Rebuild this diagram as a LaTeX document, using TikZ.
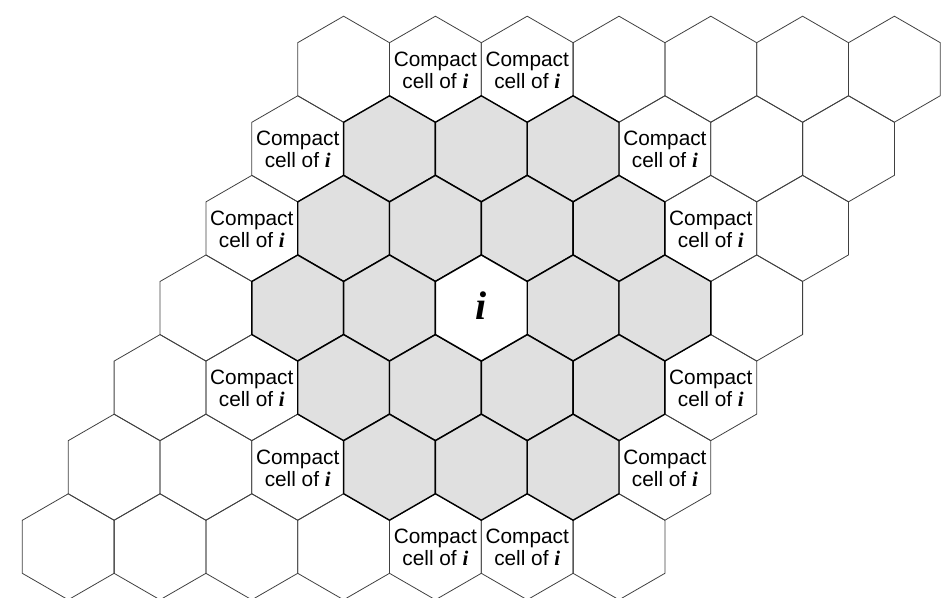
\documentclass[tikz,border=0pt]{standalone}
\usepackage{fontspec}
\setmainfont{Liberation Sans}
\newfontfamily\serifit{Liberation Serif}

\begin{document}
\begin{tikzpicture}[x=1pt,y=-1pt,
  hexthin/.style={draw=black!75, line width=0.8pt},
  hexthick/.style={draw=black, line width=1.4pt, fill=black!12},
  hexcenter/.style={draw=black, line width=1.4pt, fill=white},
  celllabel/.style={font=\fontsize{20.8}{22}\selectfont, align=center, inner sep=0pt},
  ilabel/.style={font=\fontsize{40}{40}\selectfont\serifit\bfseries\itshape, inner sep=0pt}
  ]
\useasboundingbox (0,0) rectangle (942,597);
\clip (0,0) rectangle (942,597);
\def\ha{45.9}
\def\hR{53}
\newcommand\hexcell[3]{%
  \draw[#3] (#1,#2) ++(0,-\hR) -- ++(\ha,\hR/2) -- ++(0,\hR) -- ++(-\ha,\hR/2)
    -- ++(-\ha,-\hR/2) -- ++(0,-\hR) -- cycle;}
% pass 1: outer (unshaded) cells
\foreach \r in {-3,...,3}{
  \foreach \k in {-3,...,3}{
    \pgfmathtruncatemacro\q{\k-\r}
    \pgfmathsetmacro\cx{481.3+91.8*\q+45.9*\r}
    \pgfmathsetmacro\cy{308+79.6*\r}
    \pgfmathtruncatemacro\d{(abs(\q)+abs(\r)+abs(\k))/2}
    \ifnum\d>2
      \coordinate (hex\k\r) at (\cx,\cy);
      \hexcell{\cx}{\cy}{hexthin}
      \pgfmathtruncatemacro\pr{\q*\r*\k}
      \ifnum\d=3 \ifnum\pr=0 \else
        \node[celllabel] (lab\k\r) at (\cx,\cy+1) {Compact\\cell of {\serifit\bfseries\itshape i}};
      \fi\fi
    \fi
  }
}
% pass 2: shaded cells (distance 1 and 2)
\foreach \r in {-2,...,2}{
  \foreach \k in {-2,...,2}{
    \pgfmathtruncatemacro\q{\k-\r}
    \pgfmathsetmacro\cx{481.3+91.8*\q+45.9*\r}
    \pgfmathsetmacro\cy{308+79.6*\r}
    \pgfmathtruncatemacro\d{(abs(\q)+abs(\r)+abs(\k))/2}
    \ifnum\d>0 \ifnum\d<3
      \coordinate (hex\k\r) at (\cx,\cy);
      \hexcell{\cx}{\cy}{hexthick}
    \fi\fi
  }
}
% centre cell
\coordinate (hexc) at (481.3,308);
\hexcell{481.3}{308}{hexcenter}
\node[ilabel] (ci) at (481.3,306) {i};
\end{tikzpicture}
\end{document}
